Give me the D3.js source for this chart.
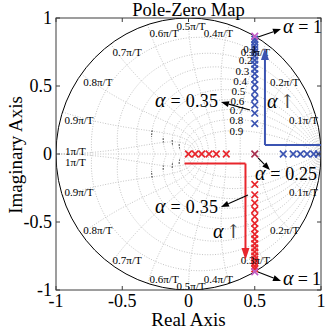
<!DOCTYPE html>
<html><head><meta charset="utf-8">
<script src="https://cdn.jsdelivr.net/npm/d3@7"></script>
<style>
body{margin:0;background:#fff}
svg{display:block}
text{font-family:"Liberation Serif","Times New Roman",serif;fill:#000}
</style>
</head><body>
<svg id="c" width="325" height="336"></svg>
<script>
// ---------- data ----------
const xTicks = [-1, -0.5, 0, 0.5, 1];
const xTickLabels = ["-1", "-0.5", "0", "0.5", "1"];
const yTicks = [-1, -0.5, 0, 0.5, 1];
const yTickLabels = ["-1", "-0.5", "0", "0.5", "1"];

// zgrid: damping ratios and natural frequencies (units of pi/T)
const zetaValues = [0.1, 0.2, 0.3, 0.4, 0.5, 0.6, 0.7, 0.8, 0.9];
const zetaLabels = ["0.1", "0.2", "0.3", "0.4", "0.5", "0.6", "0.7", "0.8", "0.9"];
const wnValues = [0.1, 0.2, 0.3, 0.4, 0.5, 0.6, 0.7, 0.8, 0.9, 1.0];
const wnLabels = ["0.1π/T", "0.2π/T", "0.3π/T", "0.4π/T", "0.5π/T", "0.6π/T", "0.7π/T", "0.8π/T", "0.9π/T", "1π/T"];
const zetaLabelWn = 1 / 3;

// poles (alpha sweep) — blue branch and red branch
const blueRe = [0.98, 0.945, 0.895, 0.845, 0.79, 0.715,
  0.5, 0.5, 0.5, 0.5, 0.5, 0.5, 0.5, 0.5, 0.5, 0.5, 0.5, 0.5, 0.5, 0.5, 0.5, 0.5, 0.5];
const blueIm = [0, 0, 0, 0, 0, 0,
  0.224, 0.30, 0.36, 0.41, 0.46, 0.51, 0.55, 0.59, 0.625, 0.66, 0.69, 0.72, 0.75, 0.775, 0.80, 0.825, 0.845];
const redRe = [0.0, 0.05, 0.10, 0.155, 0.21, 0.285,
  0.5, 0.5, 0.5, 0.5, 0.5, 0.5, 0.5, 0.5, 0.5, 0.5, 0.5, 0.5, 0.5, 0.5, 0.5, 0.5, 0.5];
const redIm = [0, 0, 0, 0, 0, 0,
  -0.224, -0.30, -0.36, -0.41, -0.46, -0.51, -0.55, -0.59, -0.625, -0.66, -0.69, -0.72, -0.75, -0.775, -0.80, -0.825, -0.845];
const doublePoleRe = [0.5];   // alpha = 0.25
const doublePoleIm = [0];
const endPoleRe = [0.5, 0.5]; // alpha = 1
const endPoleIm = [0.866, -0.866];

// annotation arrow paths (data coords)
const bluePathRe = [1.0, 0.577, 0.577];
const bluePathIm = [0.066, 0.066, 0.78];
const redPathRe = [-0.03, 0.43, 0.43];
const redPathIm = [-0.07, -0.07, -0.78];

// ---------- setup ----------
const svg = d3.select("#c");
const x = d3.scaleLinear().domain([-1, 1]).range([56, 321]);
const y = d3.scaleLinear().domain([-1, 1]).range([290, 18]);
const PI = Math.PI;

svg.append("defs").append("clipPath").attr("id", "clip")
  .append("rect").attr("x", 56).attr("y", 18).attr("width", 265).attr("height", 272);

const plot = svg.append("g").attr("clip-path", "url(#clip)");
const line = d3.line().x(d => x(d[0])).y(d => y(d[1]));

const gridStyle = s => s.attr("fill", "none").attr("stroke", "#b4b4b4")
  .attr("stroke-width", 0.8).attr("stroke-dasharray", "1,1.6");

// constant damping curves
function zetaCurve(z, sign, t0, t1) {
  const pts = [];
  const k = z / Math.sqrt(1 - z * z);
  const n = 160;
  for (let i = 0; i <= n; i++) {
    const th = t0 + (t1 - t0) * i / n;
    const r = Math.exp(-k * th);
    pts.push([r * Math.cos(th), sign * r * Math.sin(th)]);
  }
  return pts;
}
function wnCurve(w, sign) {
  const pts = [];
  const n = 120;
  for (let i = 0; i <= n; i++) {
    const z = i / n;
    const r = Math.exp(-z * w * PI);
    const th = w * PI * Math.sqrt(1 - z * z);
    pts.push([r * Math.cos(th), sign * r * Math.sin(th)]);
  }
  return pts;
}

// real axis grid line
plot.append("path").attr("d", line([[-1, 0], [1, 0]])).call(gridStyle);
zetaValues.forEach(z => [1, -1].forEach(s => {
  plot.append("path").attr("d", line(zetaCurve(z, s, 0, PI))).call(gridStyle);
}));
wnValues.forEach(w => [1, -1].forEach(s => {
  plot.append("path").attr("d", line(wnCurve(w, s))).call(gridStyle);
}));
// darker fragments of the damping curves near the negative real axis
const darkZeta = [0.4, 0.5, 0.6, 0.7];
const darkRange = [[2.58, 2.72], [2.6, 2.72], [2.45, 2.65], [2.35, 2.6]];
darkZeta.forEach((z, i) => [1, -1].forEach(s => {
  plot.append("path").attr("d", line(zetaCurve(z, s, darkRange[i][0], darkRange[i][1])))
    .attr("fill", "none").attr("stroke", "#000").attr("stroke-width", 1).attr("stroke-dasharray", "1.5,1.5");
}));

// unit circle
plot.append("ellipse").attr("cx", x(0)).attr("cy", y(0))
  .attr("rx", x(1) - x(0)).attr("ry", y(0) - y(1))
  .attr("fill", "none").attr("stroke", "#000").attr("stroke-width", 1);

// wn labels
const lab = svg.append("g").attr("font-size", 11);
wnValues.forEach((w, i) => {
  [1, -1].forEach(s => {
    const c = Math.cos(w * PI), sn = Math.sin(w * PI);
    let px = x(c), py = y(s * sn);
    let anchor = c > 0.05 ? "end" : (c < -0.05 ? "start" : "middle");
    let dx = anchor === "end" ? 3.5 : (anchor === "start" ? 2 : 2.5);
    let by = s > 0 ? py + 12 : py;
    if (Math.abs(sn) < 0.01) { dx = 9; by = s > 0 ? py + 1 : py + 12; }
    lab.append("text").attr("x", px + dx).attr("y", by).attr("text-anchor", anchor)
      .text(wnLabels[i]);
  });
});
// zeta labels
zetaValues.forEach((z, i) => {
  const th = zetaLabelWn * PI * Math.sqrt(1 - z * z);
  const r = Math.exp(-z * zetaLabelWn * PI);
  lab.append("text").attr("x", x(r * Math.cos(th)) + 1.5).attr("y", y(r * Math.sin(th)) + 4.5)
    .attr("text-anchor", "middle").text(zetaLabels[i]);
});

// axes box
svg.append("rect").attr("x", 56).attr("y", 18).attr("width", 265).attr("height", 272)
  .attr("fill", "none").attr("stroke", "#3c3c3c").attr("stroke-width", 1);
xTicks.forEach((t, i) => {
  svg.append("line").attr("x1", x(t)).attr("x2", x(t)).attr("y1", 290).attr("y2", 286).attr("stroke", "#3c3c3c");
  svg.append("line").attr("x1", x(t)).attr("x2", x(t)).attr("y1", 18).attr("y2", 22).attr("stroke", "#3c3c3c");
  svg.append("text").attr("x", x(t)).attr("y", 307).attr("text-anchor", "middle")
    .attr("font-size", 18).text(xTickLabels[i]);
});
yTicks.forEach((t, i) => {
  svg.append("line").attr("y1", y(t)).attr("y2", y(t)).attr("x1", 56).attr("x2", 60).attr("stroke", "#3c3c3c");
  svg.append("line").attr("y1", y(t)).attr("y2", y(t)).attr("x1", 321).attr("x2", 317).attr("stroke", "#3c3c3c");
  svg.append("text").attr("x", 52).attr("y", y(t) + 6).attr("text-anchor", "end")
    .attr("font-size", 18).text(yTickLabels[i]);
});

// titles
svg.append("text").attr("x", 188.5).attr("y", 16).attr("text-anchor", "middle").attr("font-size", 18.5).text("Pole-Zero Map");
svg.append("text").attr("x", 188.5).attr("y", 326).attr("text-anchor", "middle").attr("font-size", 19).text("Real Axis");
svg.append("text").attr("transform", "translate(22,155) rotate(-90)").attr("text-anchor", "middle").attr("font-size", 19).text("Imaginary Axis");

// arrow helper
function arrow(g, x1, y1, x2, y2, color, w, hl, hw) {
  const ang = Math.atan2(y2 - y1, x2 - x1);
  const bx = x2 - hl * Math.cos(ang), by = y2 - hl * Math.sin(ang);
  g.append("line").attr("x1", x1).attr("y1", y1).attr("x2", bx).attr("y2", by)
    .attr("stroke", color).attr("stroke-width", w);
  const px = -Math.sin(ang) * hw / 2, py = Math.cos(ang) * hw / 2;
  g.append("path").attr("d", `M${x2},${y2}L${bx + px},${by + py}L${bx - px},${by - py}Z`).attr("fill", color);
}
const ann = svg.append("g");
function pathArrow(re, im, color) {
  const pts = re.map((r, i) => [x(r), y(im[i])]);
  ann.append("path").attr("d", d3.line()(pts.slice(0, 2))).attr("fill", "none").attr("stroke", color).attr("stroke-width", 2);
  arrow(ann, pts[1][0], pts[1][1], pts[2][0], pts[2][1], color, 2, 12, 8);
}
pathArrow(bluePathRe, bluePathIm, "#3b54b2");
pathArrow(redPathRe, redPathIm, "#e8262c");

// crosses
function crosses(re, im, color) {
  const s = 3.3;
  re.forEach((r, i) => {
    plot.append("path").attr("transform", `translate(${x(r)},${y(im[i])})`)
      .attr("d", `M${-s},${-s}L${s},${s}M${-s},${s}L${s},${-s}`)
      .attr("stroke", color).attr("stroke-width", 1.7).attr("fill", "none");
  });
}
crosses(blueRe, blueIm, "#3b54b2");
crosses(redRe, redIm, "#e8262c");
crosses(doublePoleRe, doublePoleIm, "#a83250");
crosses(endPoleRe, endPoleIm, "#c25cc4");

// annotations
const A = (sx, sy) => [x(sx), y(sy)];
function blackArrow(a, b) { const p = A(a[0], a[1]), q = A(b[0], b[1]); arrow(ann, p[0], p[1], q[0], q[1], "#000", 1.1, 8, 6); }
blackArrow([0.525, 0.86], [0.698, 0.919]);
blackArrow([0.464, 0.324], [0.245, 0.382]);
blackArrow([0.525, -0.029], [0.615, -0.118]);
blackArrow([0.449, -0.301], [0.245, -0.390]);
blackArrow([0.525, -0.868], [0.698, -0.934]);

function alphaText(px, py, rest, len) {
  const t = ann.append("text").attr("x", px).attr("y", py).attr("font-size", 18);
  t.append("tspan").attr("font-style", "italic").attr("font-size", 20).text("α");
  t.append("tspan").text(rest);
  if (len) t.attr("textLength", len).attr("lengthAdjust", "spacing");
}
let p;
p = A(0.713, 0.890); alphaText(p[0], p[1], " = 1", 39);
p = A(-0.253, 0.346); alphaText(p[0], p[1], " = 0.35", 63);
p = A(0.502, -0.191); alphaText(p[0], p[1], " = 0.25", 62);
p = A(-0.253, -0.434); alphaText(p[0], p[1], " = 0.35", 63);
p = A(0.713, -0.963); alphaText(p[0], p[1], " = 1", 38);
function alphaUp(px, py) {
  const t = ann.append("text").attr("x", px).attr("y", py);
  t.append("tspan").attr("font-style", "italic").attr("font-size", 20).text("α");
  t.append("tspan").attr("font-family", "'DejaVu Serif','DejaVu Sans'").attr("fill", "#444")
    .attr("font-size", 19).attr("dx", 2).text("\u2191\uFE0E");
}
p = A(0.592, 0.338); alphaUp(p[0], p[1]);
p = A(0.185, -0.618); alphaUp(p[0], p[1]);
</script>
</body></html>
